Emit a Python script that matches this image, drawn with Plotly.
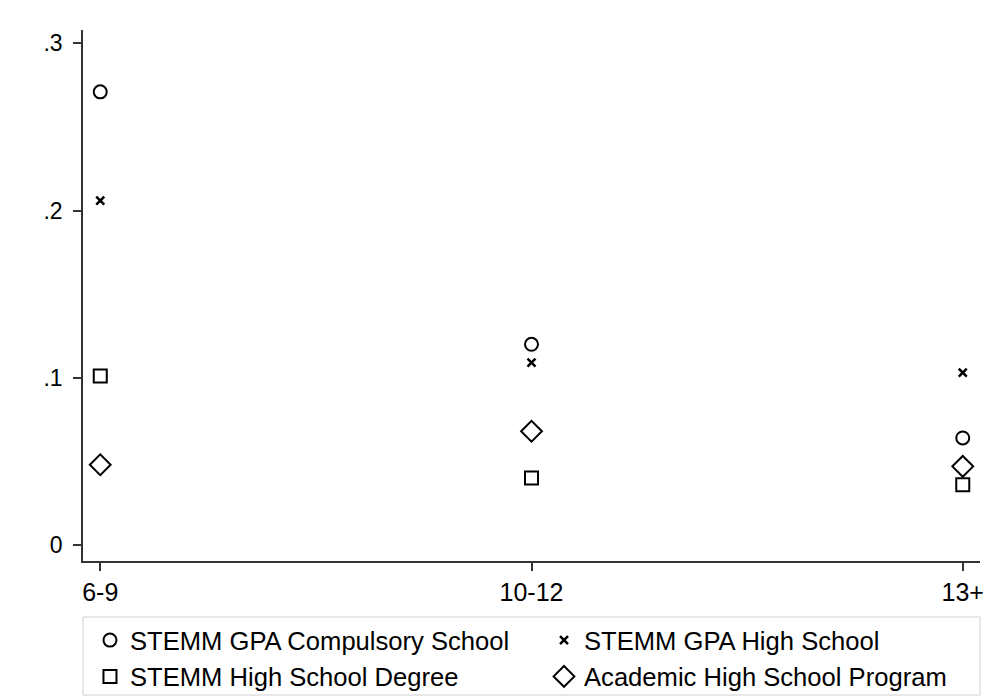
import plotly.graph_objects as go

# Ranges of years and the estimated effects for each outcome
categories = ["6-9", "10-12", "13+"]
gpa_compulsory = [0.271, 0.120, 0.064]
gpa_high_school = [0.206, 0.109, 0.103]
hs_degree = [0.101, 0.040, 0.036]
academic_program = [0.048, 0.068, 0.047]

y_tickvals = [0, 0.1, 0.2, 0.3]
y_ticktext = ["0", ".1", ".2", ".3"]

xpos = list(range(len(categories)))

# (name, values, symbol, size, line width, legend column)
series = [
    ("STEMM GPA Compulsory School", gpa_compulsory, "circle-open", 13, 2, "legend"),
    ("STEMM GPA High School", gpa_high_school, "x-thin-open", 8, 2.5, "legend2"),
    ("STEMM High School Degree", hs_degree, "square-open", 13, 2, "legend"),
    ("Academic High School Program", academic_program, "diamond-open", 16, 2, "legend2"),
]

fig = go.Figure()
for name, vals, sym, size, lw, leg in series:
    fig.add_trace(go.Scatter(
        x=xpos, y=vals, mode="markers", name=name, legend=leg,
        marker=dict(symbol=sym, size=size, color="black",
                    line=dict(color="black", width=lw)),
    ))

FONT = "Liberation Sans, Arial, sans-serif"

# Each legend column is a horizontal legend whose entries are too wide to
# share a row, so they stack one per row.
legend_common = dict(
    orientation="h",
    xref="container", yref="container",
    y=0.1186, xanchor="left", yanchor="top",
    entrywidth=600, entrywidthmode="pixels",
    font=dict(family=FONT, size=25.6, color="black"),
    bgcolor="rgba(0,0,0,0)", borderwidth=0,
    tracegroupgap=0, traceorder="normal",
)

fig.update_layout(
    width=992, height=700,
    margin=dict(l=83, r=12, t=30, b=139, autoexpand=False),
    paper_bgcolor="white", plot_bgcolor="white",
    showlegend=True,
    legend=dict(legend_common, x=0.0907),
    legend2=dict(legend_common, x=0.5484),
    xaxis=dict(
        range=[-0.04, 2.04], tickvals=xpos, ticktext=categories,
        showgrid=False, zeroline=False, showline=True, linecolor="#333333", linewidth=1.5,
        ticks="outside", ticklen=8, tickcolor="#333333", tickwidth=1.5,
        ticklabelstandoff=0, automargin=False,
        tickfont=dict(family=FONT, size=25, color="black"),
    ),
    yaxis=dict(
        range=[-0.0096, 0.308], tickvals=y_tickvals, ticktext=y_ticktext,
        showgrid=False, zeroline=False, showline=True, linecolor="#333333", linewidth=1.5,
        ticks="outside", ticklen=8, tickcolor="#333333", tickwidth=1.5,
        ticklabelstandoff=6, automargin=False,
        tickfont=dict(family=FONT, size=23, color="black"),
    ),
    shapes=[dict(
        type="rect", xref="paper", yref="paper",
        x0=0.0, x1=1.0, y0=-0.2524, y1=-0.1055,
        line=dict(color="#d0d0d0", width=1),
    )],
)

fig.write_html("out.html")
